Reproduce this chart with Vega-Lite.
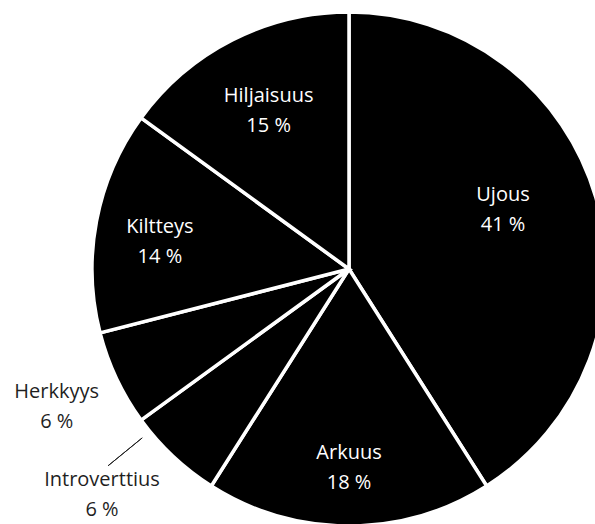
{
  "$schema": "https://vega.github.io/schema/vega-lite/v6.json",
  "width": 492,
  "height": 510,
  "padding": {"left": 103, "top": 14, "right": 0, "bottom": 0},
  "autosize": {"type": "none"},
  "background": "white",
  "config": {"view": {"stroke": null}, "text": {"font": "Open Sans", "fontSize": 20, "lineHeight": 30, "lineBreak": "\n", "baseline": "middle", "align": "center", "dy": -15}},
  "datasets": {
    "pie": [
      {"i": 1, "cat": "Ujous", "value": 41, "label": "Ujous\n41 %"},
      {"i": 2, "cat": "Arkuus", "value": 18, "label": "Arkuus\n18 %"},
      {"i": 3, "cat": "Introverttius", "value": 6, "label": "Introverttius\n6 %"},
      {"i": 4, "cat": "Herkkyys", "value": 6, "label": "Herkkyys\n6 %"},
      {"i": 5, "cat": "Kiltteys", "value": 14, "label": "Kiltteys\n14 %"},
      {"i": 6, "cat": "Hiljaisuus", "value": 15, "label": "Hiljaisuus\n15 %"}
    ],
    "leader": [{"pos": 64.1}]
  },
  "data": {"name": "pie"},
  "encoding": {
    "theta": {"field": "value", "type": "quantitative", "stack": true},
    "order": {"field": "i", "type": "quantitative"},
    "detail": {"field": "cat", "type": "nominal"}
  },
  "layer": [
    {"mark": {"type": "arc", "outerRadius": 257, "fill": "black", "stroke": "white", "strokeWidth": 3.5}},
    {"mark": {"type": "text", "radius": 165, "thetaOffset": -0.084, "color": "white", "dy": -15},
     "encoding": {"text": {"condition": {"test": "datum.cat === 'Ujous'", "field": "label"}, "value": ""}}},
    {"mark": {"type": "text", "radius": 199, "color": "white", "dy": -15},
     "encoding": {"text": {"condition": {"test": "datum.cat === 'Arkuus'", "field": "label"}, "value": ""}}},
    {"mark": {"type": "text", "radius": 177, "color": "white", "dy": -15},
     "encoding": {"text": {"condition": {"test": "datum.cat === 'Hiljaisuus'", "field": "label"}, "value": ""}}},
    {"mark": {"type": "text", "radius": 191, "thetaOffset": -0.047, "color": "white", "dy": -15},
     "encoding": {"text": {"condition": {"test": "datum.cat === 'Kiltteys'", "field": "label"}, "value": ""}}},
    {"mark": {"type": "text", "radius": 323, "color": "#1f1f1f", "dy": -15},
     "encoding": {"text": {"condition": {"test": "datum.cat === 'Herkkyys'", "field": "label"}, "value": ""}}},
    {"mark": {"type": "text", "radius": 335, "thetaOffset": 0.075, "color": "#1f1f1f", "dy": -15},
     "encoding": {"text": {"condition": {"test": "datum.cat === 'Introverttius'", "field": "label"}, "value": ""}}},
    {"data": {"name": "leader"},
     "mark": {"type": "arc", "outerRadius": 311, "innerRadius": 267, "fill": null, "stroke": "#1f1f1f", "strokeWidth": 1},
     "encoding": {
       "theta": {"field": "pos", "type": "quantitative", "stack": false},
       "theta2": {"field": "pos"},
       "order": null,
       "detail": null
     }}
  ]
}
